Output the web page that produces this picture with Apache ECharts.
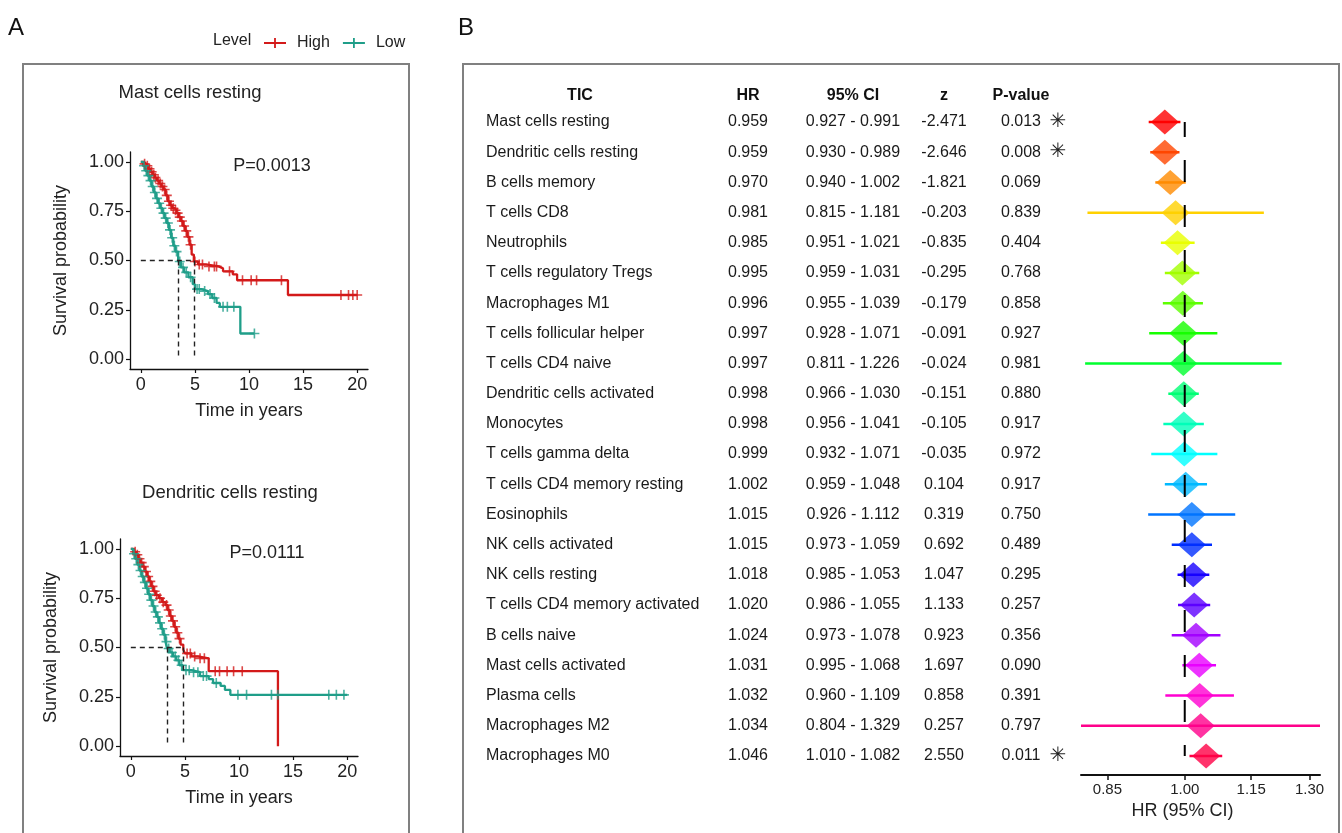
<!DOCTYPE html>
<html><head><meta charset="utf-8">
<script src="https://cdn.jsdelivr.net/npm/echarts@6/dist/echarts.min.js"></script>
<style>html,body{margin:0;padding:0;background:#fff;}#c{width:1342px;height:833px;}</style>
</head><body><div id="c"></div>
<script>
// ---------- Panel A : Kaplan-Meier data ----------
const km1HighTime = [0,0.3,0.5,0.7,0.9,1.1,1.3,1.5,1.7,1.9,2.1,2.3,2.5,2.7,2.9,3.1,3.3,3.5,3.7,3.9,4.1,4.3,4.5,4.7,4.9,5.3,6.0,7.2,7.6,8.5,8.9,13.6,20.0];
const km1HighSurv = [1,0.99,0.98,0.965,0.95,0.935,0.92,0.905,0.89,0.875,0.86,0.83,0.80,0.78,0.765,0.755,0.74,0.72,0.70,0.675,0.65,0.62,0.58,0.53,0.495,0.48,0.47,0.46,0.445,0.43,0.40,0.325,0.325];
const km1LowTime = [0,0.2,0.4,0.6,0.8,1.0,1.2,1.4,1.6,1.8,2.0,2.2,2.4,2.6,2.8,3.0,3.2,3.45,3.7,4.0,4.4,4.8,5.0,5.6,6.2,6.6,7.0,7.3,9.2,10.5];
const km1LowSurv = [1,0.98,0.955,0.93,0.905,0.875,0.845,0.815,0.79,0.765,0.74,0.715,0.69,0.655,0.615,0.575,0.545,0.495,0.465,0.44,0.415,0.38,0.355,0.345,0.33,0.31,0.285,0.265,0.13,0.13];
const km1HighCensor = [0.35,0.6,0.8,1.0,1.2,1.35,1.6,1.8,2.0,2.2,2.4,2.6,2.8,3.0,3.2,3.4,3.6,3.8,4.0,4.2,4.4,4.6,5.0,5.4,5.7,6.3,6.8,7.0,8.2,9.4,10.2,10.7,13.0,18.5,19.2,19.6,20.0];
const km1LowCensor = [0.3,0.5,0.7,0.9,1.1,1.3,1.5,1.7,1.9,2.1,2.3,2.5,2.7,2.9,3.1,3.3,3.6,3.9,4.2,4.6,5.2,5.4,5.9,6.4,6.8,7.6,8.0,8.6,10.5];
const km1Medians = [3.45, 4.9];

const km2HighTime = [0,0.3,0.5,0.7,0.9,1.1,1.3,1.5,1.7,1.9,2.1,2.3,2.6,2.9,3.2,3.4,3.6,3.8,4.0,4.2,4.4,4.6,4.85,5.0,5.6,6.2,7.2,13.6];
const km2HighSurv = [1,0.985,0.97,0.95,0.93,0.91,0.885,0.86,0.835,0.81,0.785,0.765,0.75,0.73,0.715,0.69,0.66,0.635,0.605,0.575,0.545,0.515,0.49,0.47,0.455,0.445,0.38,0];
const km2LowTime = [0,0.2,0.4,0.6,0.8,1.0,1.2,1.4,1.6,1.8,2.0,2.2,2.4,2.6,2.8,3.0,3.2,3.35,3.6,3.9,4.2,4.5,4.8,5.6,6.4,7.2,7.6,8.3,8.7,9.2,20.0];
const km2LowSurv = [1,0.975,0.95,0.92,0.89,0.86,0.83,0.80,0.77,0.74,0.71,0.68,0.655,0.625,0.595,0.565,0.53,0.495,0.475,0.455,0.435,0.41,0.385,0.375,0.355,0.34,0.32,0.305,0.285,0.26,0.26];
const km2HighCensor = [0.4,0.6,0.8,1.0,1.2,1.4,1.6,1.8,2.0,2.2,2.4,2.7,3.0,3.3,3.5,3.7,3.9,4.1,4.3,4.5,5.2,5.5,5.9,6.4,6.8,7.8,8.2,8.9,9.5,10.3];
const km2LowCensor = [0.3,0.5,0.7,0.9,1.1,1.3,1.5,1.7,1.9,2.1,2.3,2.5,2.7,2.9,3.1,3.3,3.5,3.8,4.1,4.4,4.7,5.1,5.4,5.8,6.2,6.7,7.0,7.9,9.9,10.7,13.0,13.6,18.3,19.0,19.7];
const km2Medians = [3.36, 4.85];

const kmXTicks = [0,5,10,15,20];
const kmYTicks = [0,0.25,0.5,0.75,1];

// ---------- Panel B : forest table ----------
const tic = ['Mast cells resting','Dendritic cells resting','B cells memory','T cells CD8','Neutrophils','T cells regulatory Tregs','Macrophages M1','T cells follicular helper','T cells CD4 naive','Dendritic cells activated','Monocytes','T cells gamma delta','T cells CD4 memory resting','Eosinophils','NK cells activated','NK cells resting','T cells CD4 memory activated','B cells naive','Mast cells activated','Plasma cells','Macrophages M2','Macrophages M0'];
const hr    = [0.959,0.959,0.970,0.981,0.985,0.995,0.996,0.997,0.997,0.998,0.998,0.999,1.002,1.015,1.015,1.018,1.020,1.024,1.031,1.032,1.034,1.046];
const lower = [0.927,0.930,0.940,0.815,0.951,0.959,0.955,0.928,0.811,0.966,0.956,0.932,0.959,0.926,0.973,0.985,0.986,0.973,0.995,0.960,0.804,1.010];
const upper = [0.991,0.989,1.002,1.181,1.021,1.031,1.039,1.071,1.226,1.030,1.041,1.071,1.048,1.112,1.059,1.053,1.055,1.078,1.068,1.109,1.329,1.082];
const zval  = [-2.471,-2.646,-1.821,-0.203,-0.835,-0.295,-0.179,-0.091,-0.024,-0.151,-0.105,-0.035,0.104,0.319,0.692,1.047,1.133,0.923,1.697,0.858,0.257,2.550];
const pval  = [0.013,0.008,0.069,0.839,0.404,0.768,0.858,0.927,0.981,0.880,0.917,0.972,0.917,0.750,0.489,0.295,0.257,0.356,0.090,0.391,0.797,0.011];
const forestColors = ['#FF0000','#FF4600','#FF8B00','#FFD100','#E8FF00','#A2FF00','#5DFF00','#17FF00','#00FF2E','#00FF74','#00FFB9','#00FFFF','#00B9FF','#0074FF','#002EFF','#1700FF','#5D00FF','#A200FF','#E800FF','#FF00D1','#FF008B','#FF0046'];
const hrTicks = [0.85,1.00,1.15,1.30];

const RED = '#d31a1a', TEAL = '#1f9e89';
const FONT = 'Liberation Sans, Arial, Helvetica, sans-serif';
const PLUS = 'path://M-0.8,-5H0.8V-0.8H5V0.8H0.8V5H-0.8V0.8H-5V-0.8H-0.8Z';
const KMFS = 18;

function zip(t, s){ return t.map((v,i)=>[v, s[i]]); }
function survAt(t, times, surv){ let s = surv[0]; for (let i=0;i<times.length;i++){ if (times[i] <= t) s = surv[i]; } return s; }
function censorPts(c, times, surv){ return c.map(t => [t, survAt(t, times, surv)]); }

function kmAxes(g){
  return {
    x: {gridIndex:g, type:'value', min:-1, max:21,
      axisLine:{show:true, onZero:false, lineStyle:{color:'#111', width:1.3}},
      axisTick:{show:true, customValues:kmXTicks, length:4, lineStyle:{color:'#111', width:1.2}},
      axisLabel:{customValues:kmXTicks, fontSize:KMFS, color:'#222', margin:7, fontFamily:FONT},
      splitLine:{show:false},
      name:'Time in years', nameLocation:'middle', nameGap:33, nameTextStyle:{fontSize:KMFS, color:'#222', fontFamily:FONT}},
    y: {gridIndex:g, type:'value', min:-0.05, max:1.05,
      axisLine:{show:true, onZero:false, lineStyle:{color:'#111', width:1.3}},
      axisTick:{show:true, customValues:kmYTicks, length:4, lineStyle:{color:'#111', width:1.2}},
      axisLabel:{customValues:kmYTicks, fontSize:KMFS, color:'#222', margin:6, fontFamily:FONT, formatter:v=>v.toFixed(2)},
      splitLine:{show:false},
      name:'Survival probability', nameLocation:'middle', nameGap:60, nameTextStyle:{fontSize:KMFS, color:'#222', fontFamily:FONT}}
  };
}
function kmSeries(g, hT, hS, lT, lS, hC, lC, med){
  const mx = Math.max(...med);
  const mlines = [[{coord:[0,0.5]},{coord:[mx,0.5]}]].concat(med.map(m=>[{coord:[m,0.5]},{coord:[m,0]}]));
  return [
    {type:'line', name:'High', xAxisIndex:g, yAxisIndex:g, step:'end', data:zip(hT,hS), showSymbol:false, symbol:'none',
     lineStyle:{color:RED, width:2.3}, itemStyle:{color:RED}, z:3,
     markLine:{silent:true, symbol:['none','none'], label:{show:false}, lineStyle:{color:'#222', width:1.4, type:[5,4]}, data:mlines}},
    {type:'line', name:'Low', xAxisIndex:g, yAxisIndex:g, step:'end', data:zip(lT,lS), showSymbol:false, symbol:'none',
     lineStyle:{color:TEAL, width:2.3}, itemStyle:{color:TEAL}, z:3},
    {type:'scatter', name:'High', xAxisIndex:g, yAxisIndex:g, data:censorPts(hC,hT,hS), symbol:PLUS, symbolSize:10, itemStyle:{color:RED}, z:4},
    {type:'scatter', name:'Low', xAxisIndex:g, yAxisIndex:g, data:censorPts(lC,lT,lS), symbol:PLUS, symbolSize:10, itemStyle:{color:TEAL}, z:4}
  ];
}

const a1 = kmAxes(0), a2 = kmAxes(1);
const lnMin = Math.log(Math.min(...lower)), lnMax = Math.log(Math.max(...upper));
const lnTicks = hrTicks.map(v=>Math.log(v));

const TFS = 16;
function colAxis(offset, fmt, header, extra){
  return Object.assign({gridIndex:2, type:'category', data:tic, inverse:true, position:'left', offset:offset,
    axisLine:{show:false}, axisTick:{show:false}, splitLine:{show:false},
    axisLabel:{show:true, interval:0, margin:0, align:'center', fontSize:TFS, color:'#1a1a1a', fontFamily:FONT, formatter:(v,i)=>fmt(i)},
    name:header, nameLocation:'start', nameGap:3, nameTextStyle:{fontSize:TFS, fontWeight:'bold', color:'#111', fontFamily:FONT, align:'center'}}, extra||{});
}
const GL = 1081;

const option = {
  animation:false,
  textStyle:{fontFamily:FONT},
  legend:{data:['High','Low'], left:259, top:30, itemWidth:22, itemHeight:12, itemGap:13, selectedMode:false,
    icon:'path://M0,5.1H22V6.9H0Z M10.1,1H11.9V11H10.1Z',
    textStyle:{fontSize:16, color:'#222', fontFamily:FONT, padding:[0,0,0,6]}},
  grid:[
    {left:130, top:152, width:238, height:217},
    {left:120, top:539, width:238, height:217},
    {left:GL, top:107, width:239, height:664}
  ],
  xAxis:[a1.x, a2.x,
    {gridIndex:2, type:'value', min:lnMin, max:lnMax, offset:4,
     axisLine:{show:true, onZero:false, lineStyle:{color:'#111', width:2}},
     axisTick:{show:true, customValues:lnTicks, length:5, lineStyle:{color:'#111', width:1.5}},
     axisLabel:{customValues:lnTicks, fontSize:15, color:'#222', margin:7, fontFamily:FONT, formatter:v=>Math.exp(v).toFixed(2)},
     splitLine:{show:false},
     name:'HR (95% CI)', nameLocation:'middle', nameGap:23, nameTextStyle:{fontSize:18, color:'#222', fontFamily:FONT, padding:[0,36,0,0]}}
  ],
  yAxis:[a1.y, a2.y,
    {gridIndex:2, type:'category', data:tic, inverse:true, axisLine:{show:false}, axisTick:{show:false}, axisLabel:{show:false}, splitLine:{show:false}},
    colAxis(GL-486, i=>tic[i], '', {axisLabel:{show:true, interval:0, margin:0, align:'left', fontSize:TFS, color:'#1a1a1a', fontFamily:FONT, formatter:(v,i)=>tic[i]}}),
    colAxis(GL-580, i=>'', 'TIC', {axisLabel:{show:false}}),
    colAxis(GL-748, i=>hr[i].toFixed(3), 'HR'),
    colAxis(GL-853, i=>lower[i].toFixed(3)+' - '+upper[i].toFixed(3), '95% CI'),
    colAxis(GL-944, i=>zval[i].toFixed(3), 'z'),
    colAxis(GL-1021, i=>pval[i].toFixed(3), 'P-value'),
    colAxis(GL-1058, i=>'', '', {axisLabel:{show:true, interval:0, margin:0, align:'center', fontSize:20, color:'#222', fontFamily:'DejaVu Sans', formatter:(v,i)=>pval[i] < 0.05 ? '✳' : ''}})
  ],
  series: [].concat(
    kmSeries(0, km1HighTime, km1HighSurv, km1LowTime, km1LowSurv, km1HighCensor, km1LowCensor, km1Medians),
    kmSeries(1, km2HighTime, km2HighSurv, km2LowTime, km2LowSurv, km2HighCensor, km2LowCensor, km2Medians),
    [
      {type:'custom', xAxisIndex:2, yAxisIndex:2, z:2,
       data: tic.map((n,i)=>[Math.log(lower[i]), Math.log(upper[i]), i]),
       encode:{x:[0,1], y:2},
       renderItem:(params, api)=>{
         const a = api.coord([api.value(0), api.value(2)]);
         const b = api.coord([api.value(1), api.value(2)]);
         return {type:'line', shape:{x1:a[0], y1:a[1], x2:b[0], y2:b[1]}, style:{stroke:forestColors[params.dataIndex], lineWidth:2.5}};
       }},
      {type:'scatter', xAxisIndex:2, yAxisIndex:2, z:3, symbol:'diamond', symbolSize:[28,25],
       data: tic.map((n,i)=>({value:[Math.log(hr[i]), i], itemStyle:{color:forestColors[i]}}))},
      {type:'line', xAxisIndex:2, yAxisIndex:2, z:5, symbol:'none', silent:true,
       data:[[0,0],[0,tic.length-1]],
       lineStyle:{color:'#000', width:2, type:[22,23], dashOffset:7}}
    ]
  ),
  graphic:[
    {type:'rect', shape:{x:23, y:64, width:386, height:800}, style:{fill:'none', stroke:'#808080', lineWidth:2}, silent:true},
    {type:'rect', shape:{x:463, y:64, width:876, height:800}, style:{fill:'none', stroke:'#808080', lineWidth:2}, silent:true},
    {type:'text', x:8, y:28, style:{text:'A', fontSize:24, fill:'#111', fontFamily:FONT, textVerticalAlign:'middle'}},
    {type:'text', x:458, y:28, style:{text:'B', fontSize:24, fill:'#111', fontFamily:FONT, textVerticalAlign:'middle'}},
    {type:'text', x:213, y:41, style:{text:'Level', fontSize:16, fill:'#222', fontFamily:FONT, textVerticalAlign:'middle'}},
    {type:'text', x:190, y:93, style:{text:'Mast cells resting', fontSize:18.5, fill:'#222', fontFamily:FONT, textAlign:'center', textVerticalAlign:'middle'}},
    {type:'text', x:230, y:493, style:{text:'Dendritic cells resting', fontSize:18.5, fill:'#222', fontFamily:FONT, textAlign:'center', textVerticalAlign:'middle'}},
    {type:'text', x:272, y:166, style:{text:'P=0.0013', fontSize:18, fill:'#222', fontFamily:FONT, textAlign:'center', textVerticalAlign:'middle'}},
    {type:'text', x:267, y:553, style:{text:'P=0.0111', fontSize:18, fill:'#222', fontFamily:FONT, textAlign:'center', textVerticalAlign:'middle'}}
  ]
};
const chart = echarts.init(document.getElementById('c'), null, {renderer:'canvas'});
chart.setOption(option);
</script></body></html>
